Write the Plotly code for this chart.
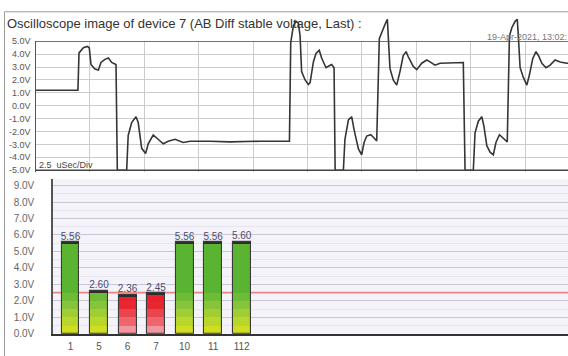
import plotly.graph_objects as go

W, H = 568, 356

# ---------------- data ----------------
TITLE = "Oscilloscope image of device 7 (AB Diff stable voltage, Last) :"
TIMESTAMP = "19-Apr-2021, 13:02:"
TIMEBASE = "2.5  uSec/Div"
US_PER_DIV = 2.5

TIME_US = [0.00, 1.95, 2.00, 2.20, 2.38, 2.47, 2.55, 2.73, 2.89, 3.01, 3.19, 3.35, 3.50, 3.70, 3.76,
           4.19, 4.26, 4.42, 4.62, 4.72, 4.88, 5.06, 5.18, 5.41, 5.57, 5.87, 6.10, 6.41, 6.79, 7.10,
           8.02, 8.94, 10.32, 11.67, 11.73, 11.85, 11.97, 12.08, 12.16, 12.23, 12.39, 12.54, 12.62,
           12.77, 12.89, 13.04, 13.15, 13.35, 13.50, 13.61, 13.72, 13.77, 14.15, 14.22, 14.38, 14.53,
           14.64, 14.84, 14.99, 15.10, 15.22, 15.41, 15.56, 15.68, 15.80, 15.91, 16.06, 16.17, 16.21,
           16.29, 16.44, 16.60, 16.75, 16.90, 17.03, 17.13, 17.36, 17.52, 17.75, 17.98, 18.13, 18.36,
           18.59, 18.90, 19.28, 19.66, 19.74, 20.12, 20.20, 20.35, 20.51, 20.61, 20.74, 20.89, 21.04,
           21.16, 21.32, 21.47, 21.62, 21.68, 21.78, 21.89, 22.04, 22.14, 22.19, 22.27, 22.42, 22.58,
           22.70, 22.85, 23.00, 23.11, 23.27, 23.46, 23.65, 23.88, 24.11, 24.42, 24.80]
VOLTS = [1.2, 1.2, 4.1, 4.5, 4.6, 4.5, 3.2, 2.85, 2.78, 3.36, 3.6, 3.7, 3.36, 3.2, -5,
         -5, -2.3, -1.3, -0.85, -1.3, -3.3, -3.7, -2.95, -2.27, -2.5, -2.95, -2.76, -2.6, -2.85, -2.75,
         -2.75, -2.8, -2.75, -2.74, 4.9, 6.2, 6.55, 6.4, 5.4, 2.65, 2.0, 1.65, 1.8,
         3.4, 4.05, 4.3, 3.7, 2.95, 3.1, 3.2, 2.95, -5, -5, -2.6, -1.1, -0.85,
         -1.85, -3.35, -3.8, -2.85, -2.35, -2.25, -2.5, -2.74, 5.2, 5.7, 6.3, 6.7, 5.0,
         2.9, 2.0, 1.6, 2.65, 3.9, 4.2, 3.8, 3.05, 2.8, 3.3, 3.55, 3.4, 3.15,
         3.3, 3.3, 3.3, 3.35, -5, -5, -2.1, -1.2, -0.85, -1.6, -3.1, -3.6, -3.8,
         -2.85, -2.25, -2.5, -2.74, -2.8, 5.4, 6.05, 6.55, 6.7, 5.4, 2.95, 2.2, 1.6,
         2.4, 3.65, 4.2, 3.9, 3.3, 2.95, 3.15, 3.55, 3.4, 3.3, 3.25]
assert len(TIME_US) == len(VOLTS)

TOP_TICKS = [5, 4, 3, 2, 1, 0, -1, -2, -3, -4, -5]
TOP_TICK_LABELS = [f"{v:.1f}V" for v in TOP_TICKS]

CHANNELS = ["1", "5", "6", "7", "10", "11", "112"]
CHANNEL_VOLTS = [5.56, 2.60, 2.36, 2.45, 5.56, 5.56, 5.60]
THRESHOLD = 2.5
BOTTOM_TICKS = [0, 1, 2, 3, 4, 5, 6, 7, 8, 9]
BOTTOM_TICK_LABELS = [f"{v:.1f}V" for v in BOTTOM_TICKS]

# ---------------- styling helpers ----------------
FONT = "Liberation Sans, Arial, sans-serif"


def py(p):
    return 1 - p / H


def px(p):
    return p / W


# top panel geometry (pixels)
TOP_L = 35.5
TOP_GRID_TOP = 37.3   # 5 V line
TOP_BOTTOM = 172.0
TOP_TRACE_TOP = 10.8
TOP_RANGE_GRID = [-5.15, 5.0]
TOP_RANGE_TRACE = [-5.15, 7.0]
X_RANGE_US = [0, (W - TOP_L) / 54.4 * US_PER_DIV]

# bottom panel geometry
BOT_L = 53.0
BOT_TOP = 179.0
BOT_BOTTOM = 338.3

fig = go.Figure()

# empty trace so that the grid subplot is fully drawn
fig.add_trace(go.Scatter(x=[None], y=[None], mode="lines", xaxis="x", yaxis="y",
                         hoverinfo="skip", showlegend=False))

# waveform
fig.add_trace(go.Scatter(
    x=TIME_US, y=VOLTS, mode="lines", xaxis="x3", yaxis="y3",
    line=dict(color="#353535", width=1.6), hoverinfo="skip", showlegend=False))

# bar bands (gradient imitation)
BAND_EDGES = [0, 0.5, 1.0, 1.5, 2.0, 2.5, 1e9]
GREEN_BANDS = ["#d0de22", "#b9d62b", "#a0cd33", "#87c439", "#6ebc35", "#5bb431"]
RED_BANDS = ["#f2959c", "#ef656d", "#eb444c", "#e7262f", "#e6232c", "#e6232c"]
n = len(CHANNELS)
for k in range(len(BAND_EDGES) - 1):
    lo, hi = BAND_EDGES[k], BAND_EDGES[k + 1]
    heights = [max(0.0, min(v, hi) - lo) for v in CHANNEL_VOLTS]
    colors = [(GREEN_BANDS[k] if v >= THRESHOLD else RED_BANDS[k]) for v in CHANNEL_VOLTS]
    fig.add_trace(go.Bar(
        x=CHANNELS, y=heights, base=[lo] * n, width=0.63, xaxis="x2", yaxis="y2",
        marker=dict(color=colors, line=dict(width=0)), hoverinfo="skip", showlegend=False))

# outline
fig.add_trace(go.Bar(
    x=CHANNELS, y=CHANNEL_VOLTS, base=[0] * n, width=0.63, xaxis="x2", yaxis="y2",
    marker=dict(color="rgba(0,0,0,0)", line=dict(color="#3a3a3a", width=1.1)),
    hoverinfo="skip", showlegend=False))
# dark top cap
CAP = 0.09
fig.add_trace(go.Bar(
    x=CHANNELS, y=[CAP] * n, base=[v - CAP for v in CHANNEL_VOLTS], width=0.63,
    xaxis="x2", yaxis="y2", marker=dict(color="#2e2e2e", line=dict(width=0)),
    hoverinfo="skip", showlegend=False))

# value labels
fig.add_trace(go.Scatter(
    x=CHANNELS, y=CHANNEL_VOLTS, mode="text", text=[f"{v:.2f}" for v in CHANNEL_VOLTS],
    textposition="top center", textfont=dict(family=FONT, size=10, color="#4c4c6c"),
    xaxis="x2", yaxis="y2", hoverinfo="skip", showlegend=False, cliponaxis=False))

minor_vals = [v + 0.5 for v in BOTTOM_TICKS if abs(v + 0.5 - THRESHOLD) > 1e-9]

layout = dict(
    width=W, height=H, margin=dict(l=0, r=0, t=0, b=0),
    paper_bgcolor="white", plot_bgcolor="rgba(0,0,0,0)",
    font=dict(family=FONT, color="#555"),
    showlegend=False, barmode="overlay", bargap=0,
    # top grid
    xaxis=dict(domain=[px(TOP_L), 1], range=X_RANGE_US, anchor="y", showgrid=True,
               gridcolor="#cccccc", gridwidth=1, dtick=US_PER_DIV, tick0=0,
               showticklabels=False, zeroline=False, ticks="", showline=False),
    yaxis=dict(domain=[py(TOP_BOTTOM), py(TOP_GRID_TOP)], range=TOP_RANGE_GRID, anchor="x",
               tickvals=TOP_TICKS, ticktext=TOP_TICK_LABELS, showgrid=True,
               gridcolor="#cccccc", gridwidth=1, zeroline=False, ticks="",
               showline=True, linecolor="#555", linewidth=1.2,
               tickfont=dict(size=9, color="#555"), ticklabelstandoff=2),
    # top trace
    xaxis3=dict(domain=[px(TOP_L), 1], range=X_RANGE_US, anchor="y3", visible=False),
    yaxis3=dict(domain=[py(TOP_BOTTOM), py(TOP_TRACE_TOP)], range=TOP_RANGE_TRACE,
                anchor="x3", visible=False),
    # bottom bars
    xaxis2=dict(domain=[px(BOT_L), 1], type="category", categoryorder="array",
                categoryarray=CHANNELS, range=[-0.613, 17.44], anchor="y2",
                showgrid=False, zeroline=False, ticks="", showline=True,
                linecolor="#333", linewidth=1.5, tickfont=dict(size=10, color="#555"),
                ticklabelstandoff=2),
    yaxis2=dict(domain=[py(BOT_BOTTOM), py(BOT_TOP)], range=[0, 9.4], anchor="x2",
                tickvals=BOTTOM_TICKS, ticktext=BOTTOM_TICK_LABELS, showgrid=True,
                gridcolor="#c9c6d8", gridwidth=1, zeroline=False, ticks="",
                showline=True, linecolor="#555", linewidth=1.5,
                minor=dict(tickvals=minor_vals, showgrid=True, gridcolor="#e8e5f0"),
                tickfont=dict(size=10, color="#666"), ticklabelstandoff=15),
)

shapes = [
    # overall frame
    dict(type="rect", xref="paper", yref="paper", x0=px(4.5), x1=1.2, y0=-0.2, y1=py(7),
         line=dict(color="#9a9a9a", width=1), fillcolor="rgba(0,0,0,0)", layer="above"),
    # lavender background of bar chart
    dict(type="rect", xref="x2 domain", yref="y2 domain", x0=0, x1=1, y0=0, y1=1,
         line=dict(width=0), fillcolor="#f5f3fa", layer="below"),
    # threshold line
    dict(type="line", xref="x2 domain", yref="y2", x0=0, x1=1, y0=THRESHOLD, y1=THRESHOLD,
         line=dict(color="#e88484", width=1.6), layer="below"),
    # scope frame lines at +/-5V
    dict(type="line", xref="x domain", yref="y", x0=0, x1=1, y0=5, y1=5,
         line=dict(color="#444", width=1.6)),
    dict(type="line", xref="x domain", yref="y", x0=0, x1=1, y0=-5, y1=-5,
         line=dict(color="#444", width=1.6)),
]
layout["shapes"] = shapes

layout["annotations"] = [
    dict(text=TITLE, xref="paper", yref="paper", x=px(5), y=py(19), xanchor="left",
         yanchor="middle", showarrow=False, font=dict(size=13, color="#333")),
    dict(text=TIMESTAMP, xref="paper", yref="paper", x=px(485), y=py(33), xanchor="left",
         yanchor="middle", showarrow=False, font=dict(size=9, color="#777")),
    dict(text=TIMEBASE, xref="paper", yref="paper", x=px(37), y=py(165), xanchor="left",
         yanchor="middle", showarrow=False, font=dict(size=9, color="#444")),
]

fig.update_layout(**layout)
fig.write_html(
    "out.html",
    config={"displayModeBar": False},
    post_script="document.body.style.margin='0';document.body.style.overflow='hidden';",
)
